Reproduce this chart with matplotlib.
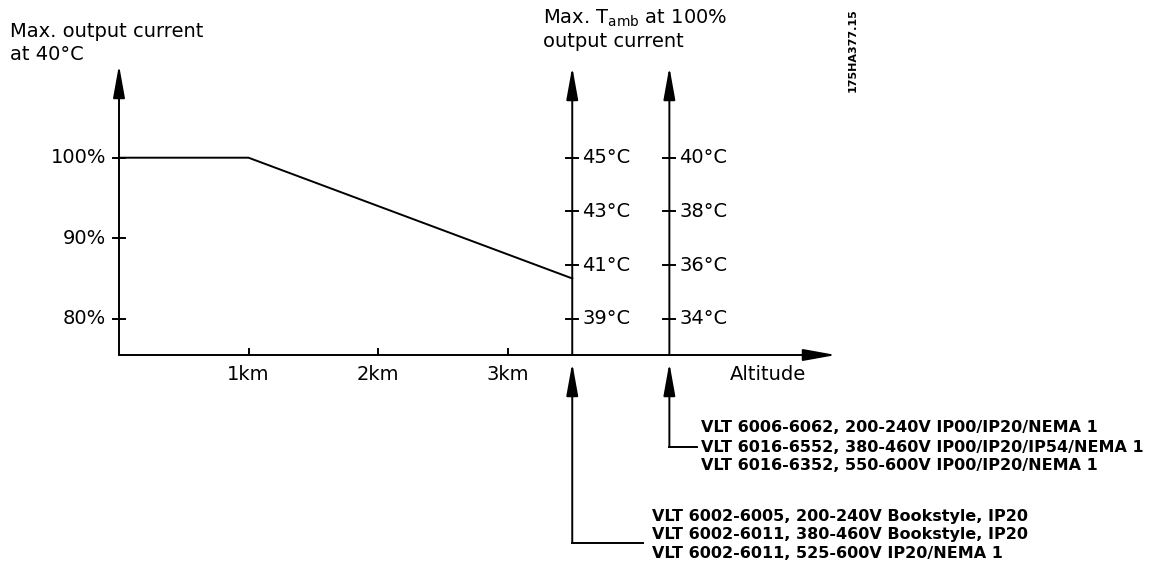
import matplotlib
matplotlib.use("Agg")
import matplotlib.pyplot as plt

# derating curve: output current vs altitude
altitude_km = [0, 1, 3.5]
current_pct = [100, 100, 85]

pct_ticks = [80, 90, 100]
km_ticks = [1, 2, 3]

# the two ambient temperature scales (bottom tick sits at 80 %, top tick at 100 %)
temp_axis_a = 3.5
temps_a = [39, 41, 43, 45]
temp_axis_b = 4.25
temps_b = [34, 36, 38, 40]

group_a = ["VLT 6002-6005, 200-240V Bookstyle, IP20",
           "VLT 6002-6011, 380-460V Bookstyle, IP20",
           "VLT 6002-6011, 525-600V IP20/NEMA 1"]
group_b = ["VLT 6006-6062, 200-240V IP00/IP20/NEMA 1",
           "VLT 6016-6552, 380-460V IP00/IP20/IP54/NEMA 1",
           "VLT 6016-6352, 550-600V IP00/IP20/NEMA 1"]

W, H = 1159, 564
X0, KM = 119, 129.5          # pixel of 0 km, pixels per km
Y100, PCT = 157.7, 8.05      # pixel of 100 %, pixels per %

def dx(p):
    return (p - X0) / KM

def dy(p):
    return 100 - (p - Y100) / PCT

def temp_to_pct(t, temps):
    return 80 + (t - temps[0]) / (temps[-1] - temps[0]) * 20

fig = plt.figure(figsize=(W / 100, H / 100), dpi=100)
ax = fig.add_axes([0, 0, 1, 1])
ax.set_xlim(dx(0), dx(W))
ax.set_ylim(dy(H), dy(0))
ax.axis("off")

LW = 1.4
FS = 14
base = dy(355)

def arrow(x0, y0, x1, y1):
    ax.annotate("", xy=(x1, y1), xytext=(x0, y0),
                arrowprops=dict(arrowstyle="-|>,head_length=2.0,head_width=0.36",
                                lw=LW, color="black", shrinkA=0, shrinkB=0))

# main axes
arrow(0, base, 0, dy(65))
arrow(0, base, dx(836), base)
for p in pct_ticks:
    ax.plot([dx(113), dx(125)], [p, p], color="black", lw=LW)
    ax.text(dx(106), p, f"{p}%", ha="right", va="center", fontsize=FS)
for k in km_ticks:
    ax.plot([k, k], [base, dy(349)], color="black", lw=LW)
    ax.text(k, dy(375), f"{k}km", ha="center", va="center", fontsize=FS)
ax.text(dx(730), dy(375), "Altitude", ha="left", va="center", fontsize=FS)

ax.plot(altitude_km, current_pct, color="black", lw=LW)

# temperature axes
for xa, temps in [(temp_axis_a, temps_a), (temp_axis_b, temps_b)]:
    arrow(xa, base, xa, dy(67))
    for t in temps:
        yp = temp_to_pct(t, temps)
        ax.plot([xa - 6 / KM, xa + 6 / KM], [yp, yp], color="black", lw=LW)
        ax.text(xa + 10 / KM, yp, f"{t}°C", ha="left", va="center", fontsize=FS)

# callouts from below
ax.plot([dx(643), temp_axis_a], [dy(543), dy(543)], color="black", lw=LW)
arrow(temp_axis_a, dy(543), temp_axis_a, dy(363))
ax.plot([dx(697), temp_axis_b], [dy(447), dy(447)], color="black", lw=LW)
arrow(temp_axis_b, dy(447), temp_axis_b, dy(363))

for i, s in enumerate(group_a):
    ax.text(dx(652), dy(517 + 18 * i), s, ha="left", va="center",
            fontsize=11.5, fontweight="bold")
for i, s in enumerate(group_b):
    ax.text(dx(701), dy(428 + 19 * i), s, ha="left", va="center",
            fontsize=11.5, fontweight="bold")

# headings
ax.text(dx(10), dy(37), "Max. output current", ha="left", va="baseline", fontsize=FS)
ax.text(dx(10), dy(60), "at 40°C", ha="left", va="baseline", fontsize=FS)
ax.text(dx(543), dy(24), "Max. T$_{\\mathregular{amb}}$ at 100%", ha="left",
        va="baseline", fontsize=FS)
ax.text(dx(543), dy(47), "output current", ha="left", va="baseline", fontsize=FS)
ax.text(dx(853), dy(50), "175HA377.15", rotation=90, ha="center", va="center",
        fontsize=8, fontweight="bold")

fig.savefig("out.png", dpi=100)
